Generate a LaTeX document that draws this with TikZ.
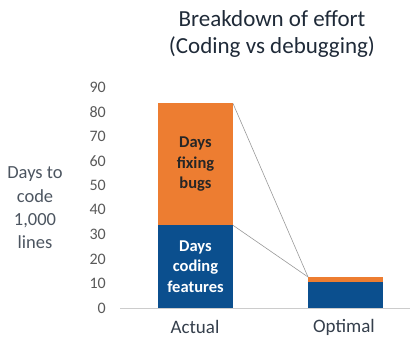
\documentclass[tikz,border=0pt]{standalone}
\usepackage{fontspec}
\setmainfont{Carlito}
\usetikzlibrary{positioning}

\definecolor{bugorange}{HTML}{ED7D31}
\definecolor{codeblue}{HTML}{0B4F8E}
\definecolor{ticktext}{HTML}{595959}
\definecolor{titletext}{HTML}{1F2A38}

\tikzset{
  bar/.style={inner sep=0pt, outer sep=0pt, anchor=south west, minimum width=75pt},
  tick/.style={anchor=east, text=ticktext, font=\fontsize{16}{16}\selectfont, inner sep=0pt},
  barlabel/.style={align=center, font=\bfseries\fontsize{16.5}{20.5}\selectfont},
}

\begin{document}
\begin{tikzpicture}[x=1pt,y=1pt]
   \useasboundingbox (0,0) rectangle (412,337);

   % title
   \node[text=titletext, align=center, font=\fontsize{23}{27}\selectfont] (title) at (272,303.5) {Breakdown of effort\\(Coding vs debugging)};

   % y axis label
   \node[text=titletext!80, align=center, font=\fontsize{18.5}{23.3}\selectfont] (ylabel) at (35,129) {Days to\\code\\1,000\\lines};

   % tick labels
   \node[tick] (t0) at (106,29) {0};
   \node[tick] (t1) at (106,53.6) {10};
   \node[tick] (t2) at (106,78.1) {20};
   \node[tick] (t3) at (106,102.7) {30};
   \node[tick] (t4) at (106,127.2) {40};
   \node[tick] (t5) at (106,151.8) {50};
   \node[tick] (t6) at (106,176.3) {60};
   \node[tick] (t7) at (106,200.9) {70};
   \node[tick] (t8) at (106,225.4) {80};
   \node[tick] (t9) at (106,250) {90};

   % axis
   \coordinate (axl) at (120,29);
   \coordinate (axr) at (410,29);
   \draw[black!20, line width=0.8pt] (axl) -- (axr);

   % actual
   \node[bar, fill=codeblue, minimum height=82.7pt] (actcode) at (158,29) {};
   \node[bar, fill=bugorange, minimum height=121.8pt, above=0pt of actcode.north west, anchor=south west] (actbugs) {};
   \node[barlabel, text=white] (actcodetxt) at (actcode.center) {Days\\coding\\features};
   \node[barlabel, text=black!85] (actbugstxt) at (actbugs.center) {Days\\fixing\\bugs};

   % optimal
   \node[bar, fill=codeblue, minimum height=26pt] (optcode) at (308,29) {};
   \node[bar, fill=bugorange, minimum height=5pt, above=0pt of optcode.north west, anchor=south west] (optbugs) {};

   % connectors
   \draw[black!40, line width=0.6pt] (actbugs.north east) -- (optbugs.north west);
   \draw[black!40, line width=0.6pt] (actcode.north east) -- (optbugs.north west);

   % categories
   \node[text=titletext!90, font=\fontsize{19}{19}\selectfont] (actual) at (195,10) {Actual};
   \node[text=titletext!90, font=\fontsize{19}{19}\selectfont] (optimal) at (344,10) {Optimal};
\end{tikzpicture}
\end{document}
